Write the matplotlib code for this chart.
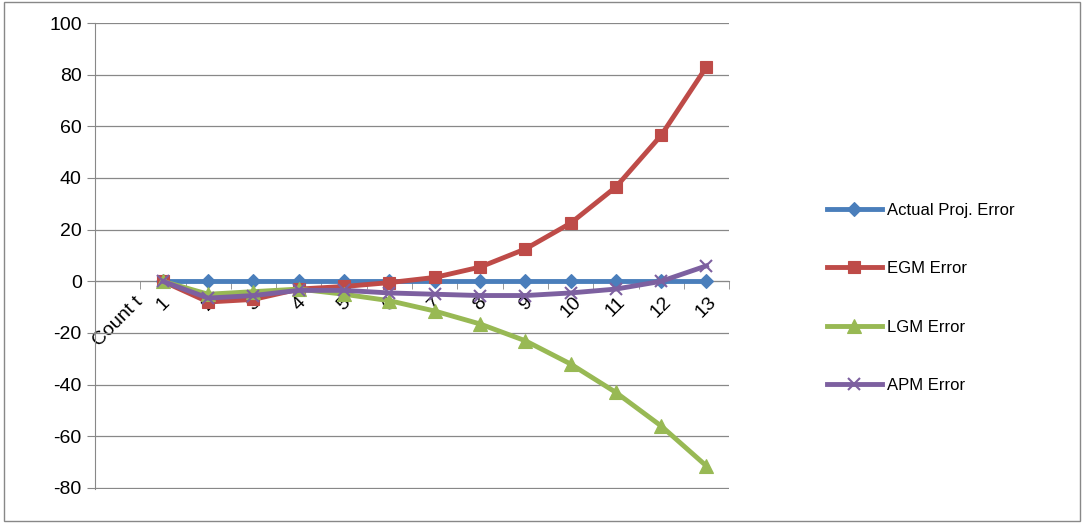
import matplotlib.pyplot as plt
from matplotlib.patches import Rectangle

plt.rcParams['font.family'] = ['Liberation Sans', 'DejaVu Sans']
plt.rcParams['axes.unicode_minus'] = False

categories = ['Count t', '1', '2', '3', '4', '5', '6', '7', '8', '9', '10', '11', '12', '13']
actual = [None, 0, 0, 0, 0, 0, 0, 0, 0, 0, 0, 0, 0, 0]
egm = [None, 0, -8, -7, -3, -2, -0.5, 1.5, 5.5, 12.5, 22.5, 36.5, 56.5, 83]
lgm = [None, 0, -5, -4, -3, -5, -7.5, -11.5, -16.5, -23, -32, -43, -56, -71.5]
apm = [None, 0, -6.5, -5.5, -3.5, -3.5, -4.5, -5, -5.5, -5.5, -4.5, -3, 0, 6]

series = [
    ('Actual Proj. Error', actual, '#4A7EBB', 'D', 7),
    ('EGM Error', egm, '#BE4B48', 's', 9),
    ('LGM Error', lgm, '#98B954', '^', 10),
    ('APM Error', apm, '#7D60A0', 'x', 8),
]

fig = plt.figure(figsize=(10.84, 5.23), dpi=100)
ax = fig.add_axes([0.0876, 0.065, 0.585, 0.891])
fig.patches.append(Rectangle((0.004, 0.004), 0.992, 0.992, transform=fig.transFigure,
                             fill=False, edgecolor='#888888', linewidth=1))

x = list(range(len(categories)))
for name, vals, color, marker, ms in series:
    xs = [i for i, v in zip(x, vals) if v is not None]
    ys = [v for v in vals if v is not None]
    ax.plot(xs, ys, color=color, linewidth=3.5, marker=marker, markersize=ms,
            markeredgewidth=1.5 if marker == 'x' else 0.8, label=name, zorder=3)

ax.set_xlim(-0.5, len(categories) - 0.5)
ax.set_ylim(-80.4, 100)
ax.set_yticks(range(-80, 101, 20))
ax.yaxis.grid(True, color='#888888', linewidth=0.9)
ax.set_axisbelow(True)
for s in ['top', 'right']:
    ax.spines[s].set_visible(False)
ax.spines['bottom'].set_position(('data', 0))
ax.spines['bottom'].set_color('#888888')
ax.spines['left'].set_color('#888888')
ax.set_xticks(x)
ax.set_xticklabels(categories, rotation=45, ha='center', va='top', fontsize=14)
ax.set_xticks([i - 0.5 for i in range(len(categories) + 1)], minor=True)
ax.tick_params(axis='x', which='major', length=0, pad=9)
ax.tick_params(axis='x', which='minor', length=6, color='#888888')
ax.tick_params(axis='y', labelsize=14, length=6, color='#888888')

ax.legend(loc='center left', bbox_to_anchor=(1.13, 0.41), frameon=False, fontsize=12,
          labelspacing=2.6, handlelength=3.3, handletextpad=0.3)

fig.savefig('out.png', dpi=100)
